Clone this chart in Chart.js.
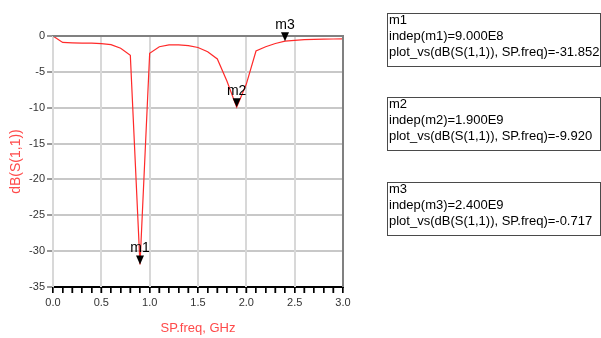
<!DOCTYPE html>
<html lang="en">
<head>
  <meta charset="UTF-8">
  <title>dB(S(1,1))</title>
  <style>
    body{ margin:0; background:#fff; }
    .wrap{ position:relative; width:601px; height:338px; }
    .box{
      position:absolute; left:387px; width:211px; height:52px;
      border:1px solid #4a4a4a; box-sizing:content-box;
      font:13px "Liberation Sans", Arial, sans-serif; line-height:16px; color:#000;
      padding-left:1px; white-space:nowrap; overflow:hidden;
    }
    .box div{ position:relative; top:-2px; }
  </style>
</head>
<body>
  <div class="wrap">
    <canvas id="mychart" width="601" height="338"></canvas>
    <div class="box" id="box1" style="top:13px"></div>
    <div class="box" id="box2" style="top:97px"></div>
    <div class="box" id="box3" style="top:182px"></div>
  </div>
  <script src="https://cdn.jsdelivr.net/npm/chart.js"></script>
  <script>
    // sweep (GHz) and dB(S(1,1))
    const freq = [0.0,0.1,0.2,0.3,0.4,0.5,0.6,0.7,0.8,0.9,1.0,1.1,1.2,1.3,1.4,1.5,
                  1.6,1.7,1.8,1.9,2.0,2.1,2.2,2.3,2.4,2.5,2.6,2.7,2.8,2.9,3.0]
    const s11 = [0,-0.9,-0.95,-1.0,-1.0,-1.05,-1.2,-1.7,-2.7,-31.852,-2.4,-1.5,-1.25,-1.25,-1.35,-1.6,
                 -2.2,-3.2,-6.3,-9.92,-6.7,-2.1,-1.5,-1.05,-0.717,-0.6,-0.5,-0.46,-0.44,-0.42,-0.4]

    // markers
    const markerNames = ['m1','m2','m3']
    const markerFreq = [0.9, 1.9, 2.4]
    const markerVal = [-31.852, -9.920, -0.717]
    const markerIndep = ['9.000E8','1.900E9','2.400E9']

    const yTicks = [0,-5,-10,-15,-20,-25,-30,-35]
    const xTicks = [0.0,0.5,1.0,1.5,2.0,2.5,3.0]

    // marker readout boxes
    markerNames.forEach((m,i)=>{
      const box = document.getElementById('box'+(i+1))
      box.innerHTML = '<div>'+m+'</div>'
        + '<div>indep('+m+')='+markerIndep[i]+'</div>'
        + '<div>plot_vs(dB(S(1,1)), SP.freq)='+markerVal[i].toFixed(3)+'</div>'
    })

    const redText = '#ff4a4a'
    const tickFont = {family:'"Liberation Sans Narrow", "Liberation Sans", Arial, sans-serif', size:11}
    const vGrid = '#d8d8d8'

    const isMajor = v => xTicks.includes(Math.round(v*10)/10)

    // frame, vertical grid / minor ticks (from the x scale ticks), marker triangles
    const markerPlugin = {
      id:'markers',
      beforeDatasetsDraw(chart){
        const {ctx, chartArea:a, scales:{x}} = chart
        ctx.save()
        x.ticks.forEach(t=>{
          const px = x.getPixelForValue(t.value)
          if(isMajor(t.value)){
            const gx = Math.round(px-1)+1
            ctx.strokeStyle = vGrid
            ctx.lineWidth = 2
            ctx.beginPath()
            ctx.moveTo(gx, a.top)
            ctx.lineTo(gx, a.bottom)
            ctx.stroke()
          }
          const tx = Math.round(px-0.6)+0.6
          ctx.strokeStyle = '#000'
          ctx.lineWidth = 1.2
          ctx.beginPath()
          ctx.moveTo(tx, a.bottom)
          ctx.lineTo(tx, a.bottom+6)
          ctx.stroke()
        })
        ctx.restore()
      },
      afterDatasetsDraw(chart){
        const {ctx, chartArea:a, scales:{x, y}} = chart
        ctx.save()
        // top / right border
        ctx.strokeStyle = '#808080'
        ctx.lineWidth = 2
        ctx.beginPath()
        ctx.moveTo(a.left, a.top)
        ctx.lineTo(a.right, a.top)
        ctx.lineTo(a.right, a.bottom)
        ctx.stroke()

        ctx.fillStyle = '#000'
        ctx.font = '14px "Liberation Sans", Arial, sans-serif'
        ctx.textAlign = 'center'
        ctx.textBaseline = 'bottom'
        markerNames.forEach((m,i)=>{
          const px = x.getPixelForValue(markerFreq[i])
          const py = y.getPixelForValue(markerVal[i])
          ctx.beginPath()
          ctx.moveTo(px-4, py-9)
          ctx.lineTo(px+4, py-9)
          ctx.lineTo(px, py)
          ctx.closePath()
          ctx.fill()
          ctx.fillText(m, px, py-9)
        })
        ctx.restore()
      }
    }

    new Chart(document.getElementById('mychart'), {
      type:'line',
      data:{
        datasets:[{
          label:'dB(S(1,1))',
          data:freq.map((f,i)=>({x:f, y:s11[i]})),
          borderColor:'#ff2a2a',
          borderWidth:1.2,
          pointRadius:0,
          tension:0
        }]
      },
      options:{
        responsive:false,
        animation:false,
        events:[],
        layout:{ padding:{top:36, right:258, left:0, bottom:0} },
        plugins:{ legend:{display:false}, tooltip:{enabled:false} },
        scales:{
          x:{
            type:'linear', min:0, max:3,
            afterBuildTicks(scale){
              const t = []
              for(let k=0;k<=30;k++) t.push({value:k/10})
              scale.ticks = t
            },
            afterFit(scale){ scale.height = 51 },
            ticks:{
              autoSkip:false, maxRotation:0, padding:3, color:'#333',
              font:tickFont,
              callback:v => isMajor(v) ? v.toFixed(1) : ''
            },
            grid:{
              lineWidth:2, tickLength:6, tickWidth:1.2, tickColor:'#000',
              color:c => (c.tick && !isMajor(c.tick.value)) ? 'rgba(0,0,0,0)' : vGrid
            },
            border:{ color:'#000', width:2 },
            title:{ display:true, text:'SP.freq, GHz', color:redText,
              font:{family:'"Liberation Sans Narrow", "Liberation Sans", Arial, sans-serif', size:13},
              padding:{top:0, bottom:2} }
          },
          y:{
            min:-35, max:0,
            afterBuildTicks(scale){ scale.ticks = yTicks.map(v=>({value:v})) },
            afterFit(scale){ scale.width = 53 },
            ticks:{ padding:2, color:'#333', font:tickFont, callback:v=>String(v) },
            grid:{ lineWidth:2, color:'#c8c8c8', tickLength:6, tickColor:'#555', tickWidth:1.2 },
            border:{ color:'#808080', width:2 },
            title:{ display:true, text:'dB(S(1,1))', color:redText,
              font:{family:'"Liberation Sans", Arial, sans-serif', size:14},
              padding:{top:8, bottom:0} }
          }
        }
      },
      plugins:[markerPlugin]
    })
  </script>
</body>
</html>
